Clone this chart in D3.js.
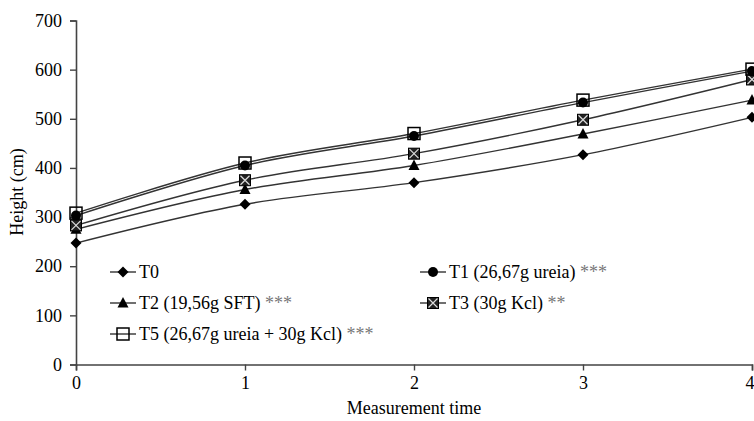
<!DOCTYPE html>
<html>
<head>
<meta charset="utf-8">
<script src="https://cdn.jsdelivr.net/npm/d3@7"></script>
<style>
  body { margin: 0; background: #fff; }
  svg text { font-family: "Times New Roman", "Liberation Serif", "DejaVu Serif", serif !important; fill: #000; }
</style>
</head>
<body>
<div id="chart"></div>
<script>
// measurement times and tick values
var times = [0, 1, 2, 3, 4];
var yTicks = [0, 100, 200, 300, 400, 500, 600, 700];

// series values (height in cm)
var t0 = [247, 326, 370, 427, 503];
var t1 = [303, 405, 465, 533, 597];
var t2 = [275, 356, 405, 469, 538];
var t3 = [283, 375, 429, 498, 580];
var t5 = [308, 410, 470, 538, 601];

var names = ["T0", "T1 (26,67g ureia) ***", "T2 (19,56g SFT) ***", "T3 (30g Kcl) **",
             "T5 (26,67g ureia + 30g Kcl) ***"];
var symbols = ["diamond", "circle", "triangle", "boxx", "square"];

var svgWidth = 754;
var svgHeight = 421;
var serif = "'Times New Roman', 'Liberation Serif', 'DejaVu Serif', serif";

var margin = { top: 20.5, bottom: 56.5, right: 2, left: 76 };
var height = svgHeight - margin.top - margin.bottom;
var width = svgWidth - margin.left - margin.right;

var svg = d3.select("#chart").append("svg")
  .attr("width", svgWidth)
  .attr("height", svgHeight)
  .attr("font-family", serif);

var chartGroup = svg.append("g")
  .attr("transform", `translate(${margin.left}, ${margin.top})`);

var xScale = d3.scaleLinear().domain([0, 4]).range([0, width]);
var yScale = d3.scaleLinear().domain([0, 700]).range([height, 0]);

// axes
var yAxis = chartGroup.append("g")
  .call(d3.axisLeft(yScale).tickValues(yTicks).tickSize(6).tickPadding(8));
var xAxis = chartGroup.append("g")
  .attr("transform", `translate(0, ${height})`)
  .call(d3.axisBottom(xScale).tickValues(times).tickSize(6).tickPadding(6).tickFormat(d3.format("d")));

[xAxis, yAxis].forEach(function(ax) {
  ax.attr("font-family", serif).attr("font-size", 18);
  ax.select(".domain").attr("stroke", "#444").attr("stroke-width", 1.6);
  ax.selectAll(".tick line").attr("stroke", "#444").attr("stroke-width", 1.4);
  ax.selectAll(".tick text").attr("fill", "#000");
});
// last x label sits at the right edge, keep it inside
xAxis.selectAll(".tick text").filter(function(d) { return d === 4; })
  .attr("text-anchor", "end").attr("x", 2);

// marker drawing
function drawMarker(g, kind, x, y) {
  if (kind === "diamond") {
    g.append("path").attr("d", `M${x},${y - 5.5}L${x + 5.5},${y}L${x},${y + 5.5}L${x - 5.5},${y}Z`)
      .attr("fill", "#000");
  } else if (kind === "circle") {
    g.append("circle").attr("cx", x).attr("cy", y).attr("r", 5).attr("fill", "#000");
  } else if (kind === "triangle") {
    g.append("path").attr("d", `M${x},${y - 6}L${x + 5.5},${y + 4.5}L${x - 5.5},${y + 4.5}Z`)
      .attr("fill", "#000");
  } else if (kind === "boxx") {
    g.append("rect").attr("x", x - 5.5).attr("y", y - 5.5).attr("width", 11).attr("height", 11)
      .attr("fill", "#222").attr("stroke", "#000").attr("stroke-width", 1);
    g.append("path").attr("d", `M${x - 4.5},${y - 4.5}L${x + 4.5},${y + 4.5}M${x + 4.5},${y - 4.5}L${x - 4.5},${y + 4.5}`)
      .attr("stroke", "#ddd").attr("stroke-width", 1.2);
  } else if (kind === "square") {
    g.append("rect").attr("x", x - 6).attr("y", y - 6).attr("width", 12).attr("height", 12)
      .attr("fill", "none").attr("stroke", "#000").attr("stroke-width", 1.5);
  }
}

var seriesList = [t0, t2, t3, t1, t5];
var seriesSym = ["diamond", "triangle", "boxx", "circle", "square"];

var line = d3.line()
  .x(function(d, i) { return xScale(times[i]); })
  .y(function(d) { return yScale(d); })
  .curve(d3.curveCatmullRom.alpha(0));

seriesList.forEach(function(s) {
  chartGroup.append("path")
    .attr("d", line(s))
    .attr("fill", "none")
    .attr("stroke", "#333")
    .attr("stroke-width", 1.4);
});

seriesList.forEach(function(s, k) {
  var g = chartGroup.append("g");
  s.forEach(function(v, i) {
    drawMarker(g, seriesSym[k], xScale(times[i]), yScale(v));
  });
});

// legend
var legendPos = [[110, 272], [420, 272], [110, 303], [420, 303], [110, 334]];
names.forEach(function(n, i) {
  var lx = legendPos[i][0], ly = legendPos[i][1];
  var g = svg.append("g");
  g.append("line").attr("x1", lx).attr("x2", lx + 26).attr("y1", ly).attr("y2", ly)
    .attr("stroke", "#333").attr("stroke-width", 1.4);
  drawMarker(g, symbols[i], lx + 13, ly);
  var stars = (n.match(/\*+$/) || [""])[0];
  var base = n.replace(/\s\*+$/, "");
  var t = g.append("text").attr("x", lx + 29).attr("y", ly + 6).attr("font-size", 18);
  t.append("tspan").text(base);
  if (stars) t.append("tspan").attr("fill", "#777").text(" " + stars);
});

// axis titles
svg.append("text")
  .attr("x", margin.left + xScale(2))
  .attr("y", 414)
  .attr("text-anchor", "middle")
  .attr("font-size", 18)
  .text("Measurement time");

svg.append("text")
  .attr("transform", "translate(23, 192) rotate(-90)")
  .attr("text-anchor", "middle")
  .attr("font-size", 18)
  .text("Height (cm)");
</script>
</body>
</html>
